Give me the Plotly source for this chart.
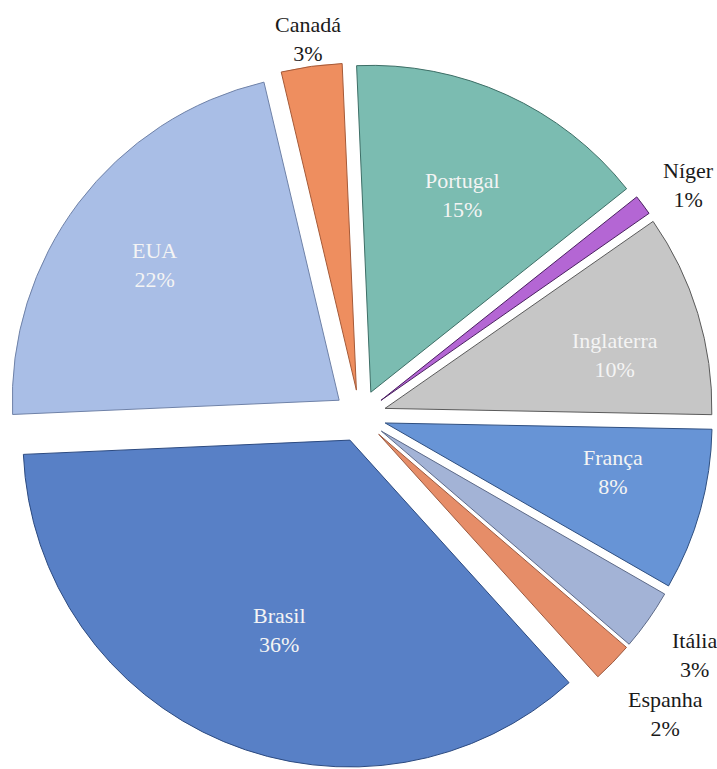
import math
import plotly.graph_objects as go

# Share of respondents by country of origin
paises = ["Portugal", "Níger", "Inglaterra", "França", "Itália",
          "Espanha", "Brasil", "EUA", "Canadá"]
percentuais = [15, 1, 10, 8, 3, 2, 36, 22, 3]

cores = ["#7bbcb1", "#b466d4", "#c6c6c6", "#6794d6", "#a3b3d6",
         "#e68d68", "#5880c6", "#a9bee6", "#ee8e5f"]
bordas = ["#3d6e66", "#4a2060", "#5a5a5a", "#2f4f80", "#5d6a88",
          "#9a5a40", "#2c4a80", "#6f82a8", "#a55a38"]

# label placement: distance from the slice tip (in radii), small angular nudge
# (degrees) and whether the label sits inside the slice
dist_rotulo = [0.666, 1.147, 0.722, 0.713, 1.178, 1.226, 0.62, 0.70, 1.085]
desvio_rotulo = [0.5, 1.7, 3.8, -3.3, 0.2, 0.0, -2.5, -0.8, 0.1]
rotulo_interno = [True, False, True, True, False, False, True, True, False]

W, H = 717, 769
ROT = -2.5
PULL = 0.08
# pie box in pixels
bx0, bx1 = 7, 713
by0 = 63
box = bx1 - bx0
cx = (bx0 + bx1) / 2
cy = by0 + box / 2
R = box / (2 + 2 * PULL)

fig = go.Figure(go.Pie(
    labels=paises,
    values=percentuais,
    sort=False,
    direction="clockwise",
    rotation=ROT,
    pull=[PULL] * len(paises),
    marker=dict(colors=cores, line=dict(color=bordas, width=1)),
    textinfo="none",
    hoverinfo="label+percent",
    showlegend=False,
    domain=dict(x=[bx0 / W, bx1 / W], y=[1 - (by0 + box) / H, 1 - by0 / H]),
))

total = sum(percentuais)
acumulado = 0
for nome, v, f, d, dentro in zip(paises, percentuais, dist_rotulo,
                                 desvio_rotulo, rotulo_interno):
    meio = math.radians(ROT + 360 * (acumulado + v / 2) / total)
    acumulado += v
    ang = meio + math.radians(d)
    px = cx + PULL * R * math.sin(meio) + f * R * math.sin(ang)
    py = cy - PULL * R * math.cos(meio) - f * R * math.cos(ang)
    fig.add_annotation(
        x=px / W, y=1 - py / H, xref="paper", yref="paper",
        text=f"{nome}<br>{v}%", showarrow=False,
        xanchor="center", yanchor="middle",
        font=dict(family="Liberation Serif", size=22,
                  color="#f4f4f4" if dentro else "#1a1a1a"),
    )

fig.update_layout(
    width=W,
    height=H,
    margin=dict(l=0, r=0, t=0, b=0),
    paper_bgcolor="white",
    plot_bgcolor="white",
    font=dict(family="Liberation Serif"),
)

fig.write_html("out.html")
